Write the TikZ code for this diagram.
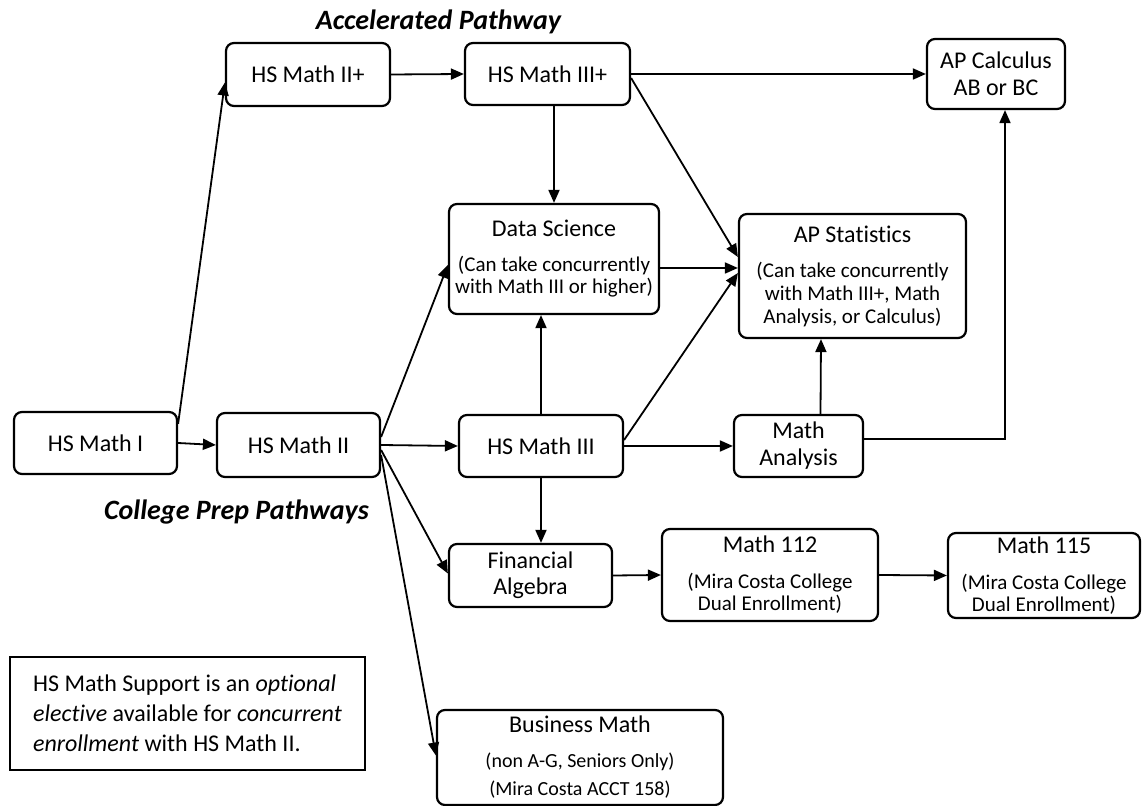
\documentclass[tikz,border=0pt]{standalone}
\usepackage{fontspec}
\setmainfont{Carlito}[Ligatures=NoCommon]
\usetikzlibrary{arrows.meta,calc}
\newcommand{\subsz}{\fontsize{10.5}{12}\selectfont}
\newcommand{\headsz}{\fontsize{14}{14}\selectfont\bfseries\itshape}

\begin{document}
\begin{tikzpicture}[x=0.5pt,y=-0.5pt,
		box/.style={draw, rounded corners=4pt, line width=1.1pt, align=center, inner sep=0pt, font=\fontsize{12}{12}\selectfont},
		arr/.style={-{Triangle[length=6.5pt,width=5.5pt]}, line width=0.9pt}]
		\useasboundingbox (0,0) rectangle (1142,806);
		\node at (438.5,22) {\headsz Accelerated Pathway};
		\node at (236.5,512) {\headsz College Prep Pathways};
		\node[box, minimum width=82pt, minimum height=31.5pt] (m2p) at (308,74.5) {HS Math II+};
		\node[box, minimum width=82.5pt, minimum height=31pt] (m3p) at (547.5,74) {HS Math III+};
		\node[box, minimum width=69pt, minimum height=35pt] (calc) at (996,74) {AP Calculus\\[1.5pt]AB or BC};
		\node[box, minimum width=105pt, minimum height=55pt] (ds) at (554,259) {Data Science\\[5.5pt]{\subsz (Can take concurrently}\\[-1pt]{\subsz with Math III or higher)}};
		\node[box, minimum width=113.5pt, minimum height=62pt] (stat) at (852.5,276) {AP Statistics\\[5.5pt]{\subsz (Can take concurrently}\\[-0.5pt]{\subsz with Math III+, Math}\\[-0.5pt]{\subsz Analysis, or Calculus)}};
		\node[box, minimum width=81.5pt, minimum height=31pt] (m1) at (95.5,443) {HS Math I};
		\node[box, minimum width=81.5pt, minimum height=32pt] (m2) at (298.5,445) {HS Math II};
		\node[box, minimum width=82pt, minimum height=31pt] (m3) at (541,446) {HS Math III};
		\node[box, minimum width=64.5pt, minimum height=31pt] (ana) at (798.5,446) {Math\\[1.5pt]Analysis};
		\node[box, minimum width=81.5pt, minimum height=31.5pt] (fin) at (530.5,575.5) {Financial\\[1pt]Algebra};
		\node[box, minimum width=108pt, minimum height=46pt] (m112) at (770,575) {Math 112\\[6pt]{\subsz (Mira Costa College}\\[-1pt]{\subsz Dual Enrollment)}};
		\node[box, minimum width=96pt, minimum height=42.5pt] (m115) at (1044,575.5) {Math 115\\[6pt]{\subsz (Mira Costa College}\\[-1pt]{\subsz Dual Enrollment)}};
		\node[box, minimum width=143pt, minimum height=47.5pt] (biz) at (580,757.5) {Business Math\\[5.5pt]{\fontsize{10}{12}\selectfont (non A-G, Seniors Only)}\\[2pt]{\fontsize{10}{12}\selectfont (Mira Costa ACCT 158)}};
		\node[draw, line width=0.9pt, align=left, inner sep=0pt, minimum width=177.5pt, minimum height=56.5pt, font=\fontsize{12}{12}\selectfont] (note) at (187.5,713.5) {HS Math Support is an \emph{optional}\\[3pt]\emph{elective} available for \emph{concurrent}\\[3pt]\emph{enrollment} with HS Math II.};
		\draw[arr] (m1.east) -- (m2.west);
		\draw[arr] ($(m1.north east)+(0,13)$) -- ($(m2p.west)+(0,8)$);
		\draw[arr] (m2p.east) -- (m3p.west);
		\draw[arr] (m3p.east) -- (calc.west);
		\draw[arr] (ds.north |- m3p.south) -- (ds.north);
		\draw[arr] ($(m3p.east)+(0,4)$) -- ($(stat.west)+(0,-19)$);
		\draw[arr] ($(ds.east)+(0,9)$) -- ($(stat.west)+(0,-8)$);
		\draw[arr] ($(m3.east)+(0,-6)$) -- ($(stat.west)+(0,-3)$);
		\draw[arr] (m3.north) -- (m3.north |- ds.south);
		\draw[arr] (m2.east) -- (m3.west);
		\draw[arr] ($(m2.east)+(0,-8)$) -- ($(ds.west)+(0,6)$);
		\draw[arr] ($(m2.east)+(0,5)$) -- ($(fin.west)+(0,-2)$);
		\draw[arr] ($(m2.east)+(0,10)$) -- ($(biz.west)+(0,-2)$);
		\draw[arr] (m3.south) -- (m3.south |- fin.north);
		\draw[arr] (m3.east) -- (ana.west);
		\draw[arr] ($(ana.north)+(22,0)$) -- ($(stat.south)+(-31.5,0)$);
		\draw[arr] ($(ana.east)+(0,-7)$) -| ($(calc.south)+(9,0)$);
		\draw[arr] (fin.east) -- (m112.west);
		\draw[arr] (m112.east) -- (m115.west);
\end{tikzpicture}
\end{document}
